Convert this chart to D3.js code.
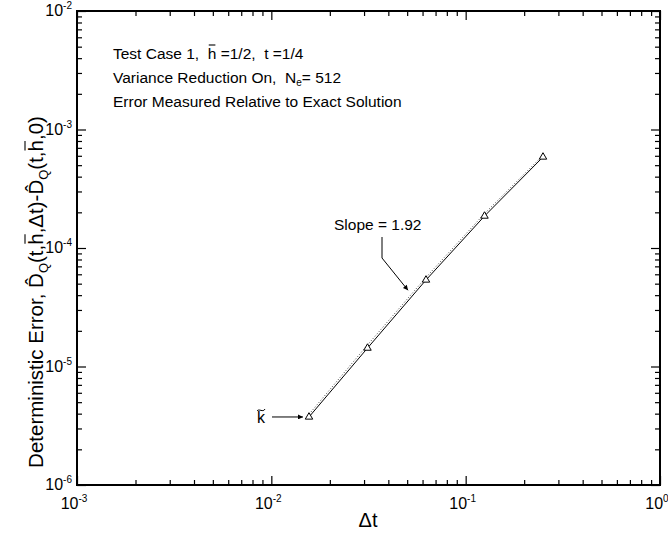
<!DOCTYPE html>
<html>
<head>
<meta charset="utf-8">
<script src="https://cdn.jsdelivr.net/npm/d3@7"></script>
<style>
  body { margin: 0; background: #fff; }
  svg { font-family: "Liberation Sans", Arial, sans-serif; }
  text { white-space: pre; }
  .axis path { display: none; }
  .axis line { stroke: #000; stroke-width: 1.2; }
</style>
</head>
<body>
<svg id="chart" width="668" height="533"></svg>
<script>
// time step sizes and measured deterministic error
const dtValues = [0.015625, 0.03125, 0.0625, 0.125, 0.25];
const errValues = [3.75e-6, 1.43e-5, 5.37e-5, 1.86e-4, 5.86e-4];
// second (dotted) curve, nearly on top of the first
const errDotted = [3.95e-6, 1.52e-5, 5.65e-5, 1.95e-4, 6.05e-4];

const xDecades = [-3, -2, -1, 0];
const yDecades = [-6, -5, -4, -3, -2];

const margin = { left: 77, right: 8, top: 11, bottom: 48 };
const width = 668, height = 533;

const svg = d3.select("#chart");

const x = d3.scaleLog().domain([1e-3, 1]).range([margin.left, width - margin.right]);
const y = d3.scaleLog().domain([1e-6, 1e-2]).range([height - margin.bottom, margin.top]);

const minorsOf = decs => {
  const out = [];
  decs.slice(0, -1).forEach(d => {
    for (let m = 2; m <= 9; m++) out.push(m * Math.pow(10, d));
  });
  return out;
};
const xMajor = xDecades.map(d => Math.pow(10, d));
const yMajor = yDecades.map(d => Math.pow(10, d));
const xMinor = minorsOf(xDecades);
const yMinor = minorsOf(yDecades);

// inward ticks on all four sides
const x0 = x.range()[0], x1 = x.range()[1];
const y0 = y.range()[0], y1 = y.range()[1];

const tickGroup = (tr, axis, vals, size) =>
  svg.append("g").attr("class", "axis").attr("transform", tr)
    .call(axis.tickValues(vals).tickSize(size).tickFormat(""));

tickGroup(`translate(0,${y0})`, d3.axisBottom(x), xMajor, -9);
tickGroup(`translate(0,${y0})`, d3.axisBottom(x), xMinor, -5);
tickGroup(`translate(0,${y1})`, d3.axisTop(x), xMajor, -9);
tickGroup(`translate(0,${y1})`, d3.axisTop(x), xMinor, -5);
tickGroup(`translate(${x0},0)`, d3.axisLeft(y), yMajor, -9);
tickGroup(`translate(${x0},0)`, d3.axisLeft(y), yMinor, -5);
tickGroup(`translate(${x1},0)`, d3.axisRight(y), yMajor, -9);
tickGroup(`translate(${x1},0)`, d3.axisRight(y), yMinor, -5);

// frame
svg.append("rect")
  .attr("x", x0).attr("y", y1)
  .attr("width", x1 - x0).attr("height", y0 - y1)
  .attr("fill", "none").attr("stroke", "#000").attr("stroke-width", 2);

// tick labels, 10 with superscript exponent
const powLabel = (g, exp) => {
  g.append("tspan").text("10");
  g.append("tspan").attr("dy", -7).attr("font-size", 10).text(exp);
};
xDecades.forEach(d => {
  const t = svg.append("text")
    .attr("x", x(Math.pow(10, d)) - 3).attr("y", y0 + 24)
    .attr("text-anchor", "middle").attr("font-size", 16);
  powLabel(t, d);
});
yDecades.forEach(d => {
  const t = svg.append("text")
    .attr("x", x0 - 5).attr("y", y(Math.pow(10, d)) + 5)
    .attr("text-anchor", "end").attr("font-size", 16);
  powLabel(t, d);
});

// bar over a single character of a text element
function overBar(parent, textSel, idx, gap) {
  const r = textSel.node().getExtentOfChar(idx);
  parent.append("line")
    .attr("x1", r.x + 1).attr("x2", r.x + r.width - 1)
    .attr("y1", r.y - gap).attr("y2", r.y - gap)
    .attr("stroke", "#000").attr("stroke-width", 1.1);
}

// x axis title
svg.append("text")
  .attr("x", 368).attr("y", 527)
  .attr("text-anchor", "middle").attr("font-size", 20)
  .text("Δt");

// y axis title
const yg = svg.append("g").attr("transform", "translate(43,292) rotate(-90)");
const yt = yg.append("text").attr("text-anchor", "middle").attr("font-size", 20.5);
const yParts = [
  ["Deterministic Error, D\u0302", 0, null],
  ["Q", 5, 13],
  ["(t,h,Δt)-D\u0302", -5, null],
  ["Q", 5, 13],
  ["(t,h,0)", -5, null]
];
yParts.forEach(p => {
  const s = yt.append("tspan").attr("dy", p[1]).text(p[0]);
  if (p[2]) s.attr("font-size", p[2]);
});
{
  const full = yt.node().textContent;
  let i = full.indexOf("h");
  while (i >= 0) {
    if (full[i - 1] === ",") overBar(yg, yt, i, -1);
    i = full.indexOf("h", i + 1);
  }
}

// annotation block
const ann = svg.append("g").attr("font-size", 15.5);
const l1 = ann.append("text").attr("x", 113).attr("y", 59).text("Test Case 1,  h =1/2,  t =1/4");
overBar(ann, l1, l1.node().textContent.indexOf("h"), 0);
const l2 = ann.append("text").attr("x", 113).attr("y", 83);
l2.append("tspan").text("Variance Reduction On,  N");
l2.append("tspan").attr("dy", 3).attr("font-size", 10).text("e");
l2.append("tspan").attr("dy", -3).text("= 512");
ann.append("text").attr("x", 113).attr("y", 107).text("Error Measured Relative to Exact Solution");

// data lines
const pts = dtValues.map((d, i) => [d, errValues[i]]);
const ptsDot = dtValues.map((d, i) => [d, errDotted[i]]);
const line = d3.line().x(d => x(d[0])).y(d => y(d[1]));

svg.append("path").datum(ptsDot).attr("d", line)
  .attr("fill", "none").attr("stroke", "#444").attr("stroke-width", 1)
  .attr("stroke-dasharray", "1,2");
svg.append("path").datum(pts).attr("d", line)
  .attr("fill", "none").attr("stroke", "#000").attr("stroke-width", 1);

svg.selectAll("path.tri").data(pts).join("path")
  .attr("class", "tri")
  .attr("transform", d => `translate(${x(d[0])},${y(d[1])})`)
  .attr("d", d3.symbol().type(d3.symbolTriangle).size(24))
  .attr("fill", "#fff").attr("stroke", "#000").attr("stroke-width", 1);

// arrow marker
svg.append("defs").append("marker")
  .attr("id", "ah").attr("viewBox", "0 0 10 10")
  .attr("refX", 10).attr("refY", 5)
  .attr("markerWidth", 8).attr("markerHeight", 5)
  .attr("markerUnits", "userSpaceOnUse")
  .attr("orient", "auto")
  .append("path").attr("d", "M0,0 L10,5 L0,10 Z").attr("fill", "#000");

// slope annotation
svg.append("text").attr("x", 334).attr("y", 230).attr("font-size", 15.5).text("Slope = 1.92");
const slopeTarget = [0.0505, 4.4e-5];
svg.append("path")
  .attr("d", `M382,237 L382,258 L${x(slopeTarget[0])},${y(slopeTarget[1])}`)
  .attr("fill", "none").attr("stroke", "#000").attr("stroke-width", 1)
  .attr("marker-end", "url(#ah)");

// k tilde pointer to first point
const kt = svg.append("text").attr("x", 257).attr("y", 423).attr("font-size", 16).text("k");
{
  const r = kt.node().getExtentOfChar(0);
  const cx = r.x + r.width / 2, cy = r.y + 1;
  svg.append("path")
    .attr("d", `M${cx - 4},${cy + 1} C${cx - 2},${cy - 2} ${cx + 2},${cy + 3} ${cx + 4},${cy - 1}`)
    .attr("fill", "none").attr("stroke", "#000").attr("stroke-width", 1);
}
svg.append("line")
  .attr("x1", 272).attr("y1", y(errValues[0]))
  .attr("x2", x(dtValues[0]) - 6).attr("y2", y(errValues[0]))
  .attr("stroke", "#000").attr("stroke-width", 1)
  .attr("marker-end", "url(#ah)");
</script>
</body>
</html>
